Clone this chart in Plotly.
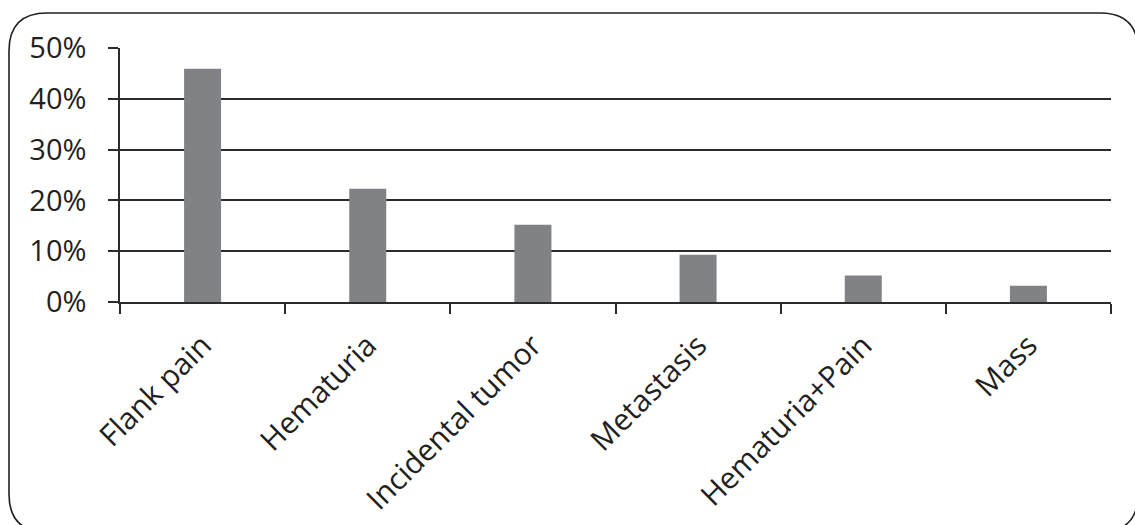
import plotly.graph_objects as go

categories = ["Flank pain", "Hematuria", "Incidental tumor", "Metastasis", "Hematuria+Pain", "Mass"]
values = [45.9, 22.3, 15.2, 9.3, 5.2, 3.2]
y_ticks = [0, 10, 20, 30, 40, 50]

W, H = 1135, 525
L, R, T, B = 120, 24, 48, 223
pw = W - L - R
ph = H - T - B

def px(x):
    return (x - L) / pw

def py(y):
    return (H - B - y) / ph

# rounded frame (pixel coords converted to paper)
x0, x1, y0, y1, r = 9, 1138, 13, 532, 38
path = (
    f"M {px(x0)},{py(y0 + r)} "
    f"Q {px(x0)},{py(y0)} {px(x0 + r)},{py(y0)} "
    f"L {px(x1 - r)},{py(y0)} "
    f"Q {px(x1)},{py(y0)} {px(x1)},{py(y0 + r)} "
    f"L {px(x1)},{py(y1 - r)} "
    f"Q {px(x1)},{py(y1)} {px(x1 - r)},{py(y1)} "
    f"L {px(x0 + r)},{py(y1)} "
    f"Q {px(x0)},{py(y1)} {px(x0)},{py(y1 - r)} Z"
)

fig = go.Figure(
    go.Bar(x=categories, y=values, marker=dict(color="#808285", line=dict(width=0)))
)

font_family = "Open Sans, Noto Sans, DejaVu Sans, sans-serif"
axis_col = "#2b2b2b"
fig.update_layout(
    width=W,
    height=H,
    margin=dict(l=L, r=R, t=T, b=B, autoexpand=False),
    paper_bgcolor="white",
    plot_bgcolor="white",
    bargap=0.776,
    showlegend=False,
    font=dict(family=font_family, size=29, color="#231f20"),
    shapes=[
        dict(type="path", path=path, xref="paper", yref="paper",
             line=dict(color="#231f20", width=1.6), layer="below")
    ],
)
fig.update_xaxes(
    type="category",
    automargin=False,
    showline=True, linecolor=axis_col, linewidth=1.5,
    ticks="outside", ticklen=10, tickcolor=axis_col, tickwidth=1.5,
    tickson="boundaries",
    tickangle=-45,
    showgrid=False,
    ticklabelstandoff=12,
    tickfont=dict(size=30),
)
fig.update_yaxes(
    range=[0, 50],
    automargin=False,
    tickvals=y_ticks,
    ticktext=[f"{v}%" for v in y_ticks],
    showline=True, linecolor=axis_col, linewidth=1.5,
    ticks="outside", ticklen=10, tickcolor=axis_col, tickwidth=1.5,
    showgrid=True, gridcolor=axis_col, gridwidth=1.5,
    zeroline=False,
    ticklabelstandoff=16,
    tickfont=dict(size=29),
)

fig.write_html("out.html")
